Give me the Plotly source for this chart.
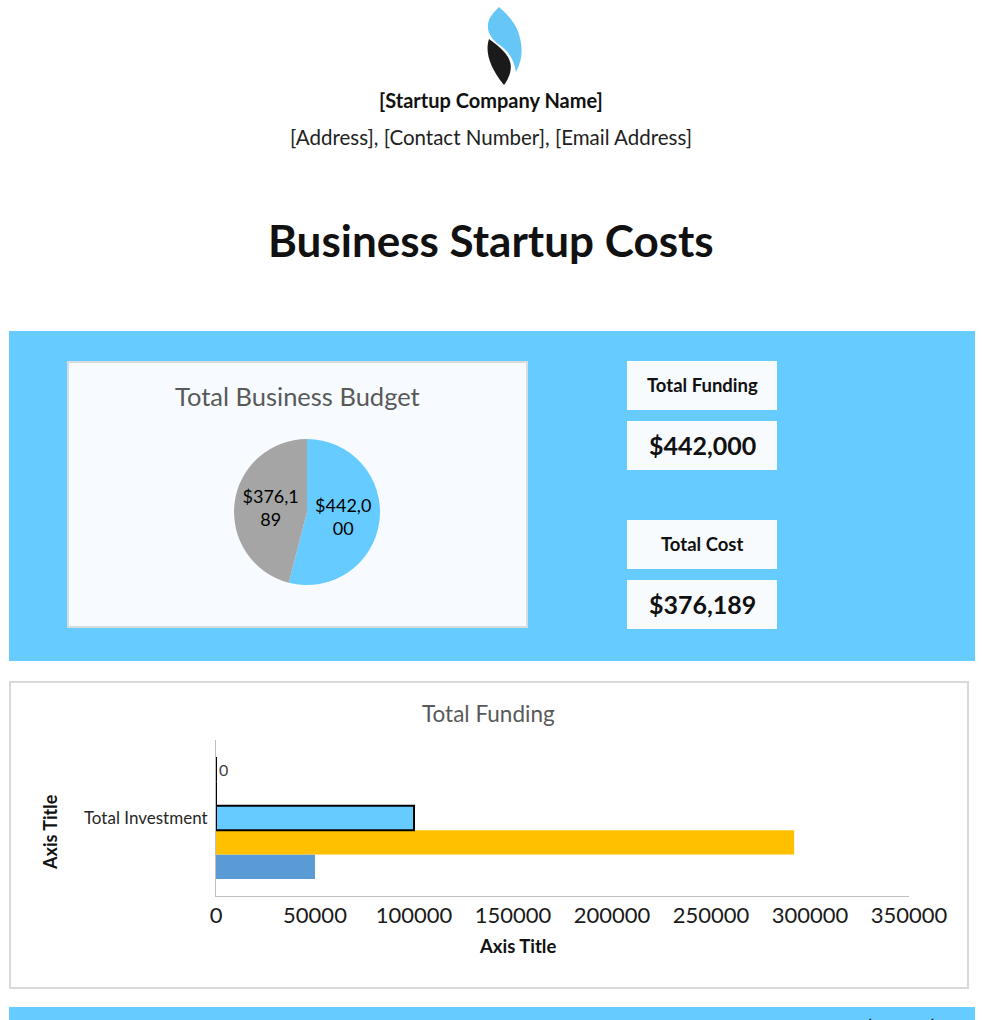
import plotly.graph_objects as go

W, H = 983, 1020


def px(x):
    return x / W


def py(y):
    return 1 - y / H


# ---------------- data ----------------
company_name = "[Startup Company Name]"
contact_line = "[Address], [Contact Number], [Email Address]"
doc_title = "Business Startup Costs"

pie_title = "Total Business Budget"
pie_labels = ["Total Funding", "Total Cost"]
pie_values = [442000, 376189]

card_labels = ["Total Funding", "Total Cost"]
card_values = [442000, 376189]

bar_title = "Total Funding"
bar_category = ["Total Investment"]
bar_series = ["Investor Funding", "Loans", "Owner Investment", "Grants", "Other"]
bar_values = [50000, 292000, 100000, 0, 0]
x_ticks = [0, 50000, 100000, 150000, 200000, 250000, 300000, 350000]
axis_title_x = "Axis Title"
axis_title_y = "Axis Title"

table_headers = ["FUNDING", "ESTIMATED", "ACTUAL", "OVER (UNDER)"]

# ---------------- styles ----------------
FONT = "Lato, 'Open Sans', sans-serif"
SKY = "#66CCFF"
bar_colors = ["#5B9BD5", "#FFC000", "#66CCFF", "#66CCFF", "#66CCFF"]
bar_line_w = [0, 0, 2, 2, 2]
bar_show_label = [False, False, False, False, True]

fig = go.Figure()


# pie
def split_label(v):
    s = "${:,}".format(v)
    return s[:6] + "<br>" + s[6:]


fig.add_trace(go.Pie(
    labels=pie_labels,
    values=pie_values,
    text=[split_label(v) for v in pie_values],
    textinfo="text",
    textposition="inside",
    insidetextorientation="horizontal",
    insidetextfont=dict(family=FONT, size=18, color="#000000"),
    marker=dict(colors=[SKY, "#A5A5A5"], line=dict(width=0)),
    sort=False,
    direction="clockwise",
    rotation=0,
    showlegend=False,
    hoverinfo="skip",
    automargin=False,
    domain=dict(x=[px(307 - 73), px(307 + 73)], y=[py(512 + 73), py(512 - 73)]),
))

# bars
for name, val, col, lw, lab in zip(bar_series, bar_values, bar_colors, bar_line_w, bar_show_label):
    fig.add_trace(go.Bar(
        y=bar_category,
        x=[val],
        name=name,
        orientation="h",
        marker=dict(color=col, line=dict(color="#000000", width=lw)),
        text=[str(val)] if lab else None,
        textposition="outside" if lab else "none",
        textfont=dict(family=FONT, size=16, color="#404040"),
        cliponaxis=False,
        showlegend=False,
        hoverinfo="skip",
        xaxis="x",
        yaxis="y",
    ))

shapes = []
# blue panel
shapes.append(dict(type="rect", xref="paper", yref="paper", x0=px(9), x1=px(975), y0=py(661), y1=py(331),
                   fillcolor=SKY, line=dict(width=0), layer="below"))
# pie box
shapes.append(dict(type="rect", xref="paper", yref="paper", x0=px(68), x1=px(527), y0=py(627), y1=py(362),
                   fillcolor="#F7FBFF", line=dict(color="#D6DCE2", width=2), layer="below"))
# cards
for (t, b) in [(361, 410), (421, 470), (520, 569), (580, 629)]:
    shapes.append(dict(type="rect", xref="paper", yref="paper", x0=px(627), x1=px(777), y0=py(b), y1=py(t),
                       fillcolor="#F8FBFE", line=dict(width=0), layer="below"))
# bar chart box
shapes.append(dict(type="rect", xref="paper", yref="paper", x0=px(10), x1=px(968), y0=py(988), y1=py(682),
                   fillcolor="#FFFFFF", line=dict(color="#D9D9D9", width=2), layer="below"))
# bottom strip
shapes.append(dict(type="rect", xref="paper", yref="paper", x0=px(9), x1=px(975), y0=py(1025), y1=py(1007),
                   fillcolor=SKY, line=dict(width=0), layer="below"))


# logo (paths in pixel space converted to paper)
def path_from(cmds):
    out = []
    for c in cmds:
        if isinstance(c, str):
            out.append(c)
        else:
            out.append("%.5f,%.5f" % (px(c[0]), py(c[1])))
    return " ".join(out)


blue_flame = path_from(["M", (499, 7),
                        "C", (507, 14), (517, 24), (520, 38),
                        "C", (523, 50), (522, 61), (516, 72),
                        "C", (514, 60), (509, 52), (501, 46),
                        "C", (492, 40), (487, 33), (488, 24),
                        "C", (489, 17), (494, 12), (499, 7), "Z"])
black_leaf = path_from(["M", (489, 39),
                        "C", (485, 51), (489, 67), (504, 85),
                        "C", (510, 77), (513, 67), (509, 59),
                        "C", (505, 51), (497, 45), (489, 39), "Z"])
shapes.append(dict(type="path", xref="paper", yref="paper", path=blue_flame, fillcolor="#66C6F5",
                   line=dict(width=0)))
shapes.append(dict(type="path", xref="paper", yref="paper", path=black_leaf, fillcolor="#1A1A1A",
                   line=dict(width=0)))

annotations = []


def text(x, y, s, size, bold=False, color="#000000", xanchor="center", yanchor="middle", angle=0):
    annotations.append(dict(
        x=px(x), y=py(y), xref="paper", yref="paper", text=("<b>%s</b>" % s) if bold else s,
        showarrow=False, xanchor=xanchor, yanchor=yanchor, textangle=angle,
        font=dict(family=FONT, size=size, color=color)))


text(491, 100, company_name, 20, bold=True, color="#111111")
text(491, 137, contact_line, 20.5, color="#222222")
text(491, 240, doc_title, 44, bold=True, color="#111111")

text(297, 396, pie_title, 25.5, color="#595959")

for i, (lab, val) in enumerate(zip(card_labels, card_values)):
    base = 385 + i * 159
    text(702, base, lab, 18.5, bold=True, color="#111111")
    text(702, base + 60, "${:,}".format(val), 25, bold=True, color="#111111")

text(488, 713, bar_title, 22.5, color="#595959")
text(517, 946, axis_title_x, 18.5, bold=True, color="#111111")
text(50, 832, axis_title_y, 18, bold=True, color="#111111", angle=-90)

for s, x in zip(table_headers, [10, 528, 668, 815]):
    text(x, 1013, s, 17, bold=True, color="#111111", xanchor="left", yanchor="top")

fig.update_layout(
    width=W, height=H, autosize=False,
    margin=dict(l=0, r=0, t=0, b=0, pad=0, autoexpand=False),
    paper_bgcolor="#FFFFFF",
    plot_bgcolor="rgba(0,0,0,0)",
    showlegend=False,
    barmode="group",
    bargap=0.218,
    bargroupgap=0,
    shapes=shapes,
    annotations=annotations,
    xaxis=dict(
        domain=[px(216), px(909)], anchor="y", range=[0, 350000],
        tickvals=x_ticks, ticktext=[str(v) for v in x_ticks],
        showgrid=False, zeroline=False, showline=True, linecolor="#BFBFBF", linewidth=1,
        ticks="", tickfont=dict(family=FONT, size=22, color="#1a1a1a"),
        automargin=False, fixedrange=True,
    ),
    yaxis=dict(
        domain=[py(896), py(740)], anchor="x", type="category",
        showgrid=False, zeroline=False, showline=True, linecolor="#BFBFBF", linewidth=1,
        ticks="", ticklabelstandoff=4, tickfont=dict(family=FONT, size=17, color="#262626"),
        automargin=False, fixedrange=True,
    ),
)

fig.write_html(
    "out.html",
    config={"displayModeBar": False, "responsive": False},
    default_width="983px",
    default_height="1020px",
    post_script="document.body.style.margin='0';document.body.style.overflow='hidden';",
)
